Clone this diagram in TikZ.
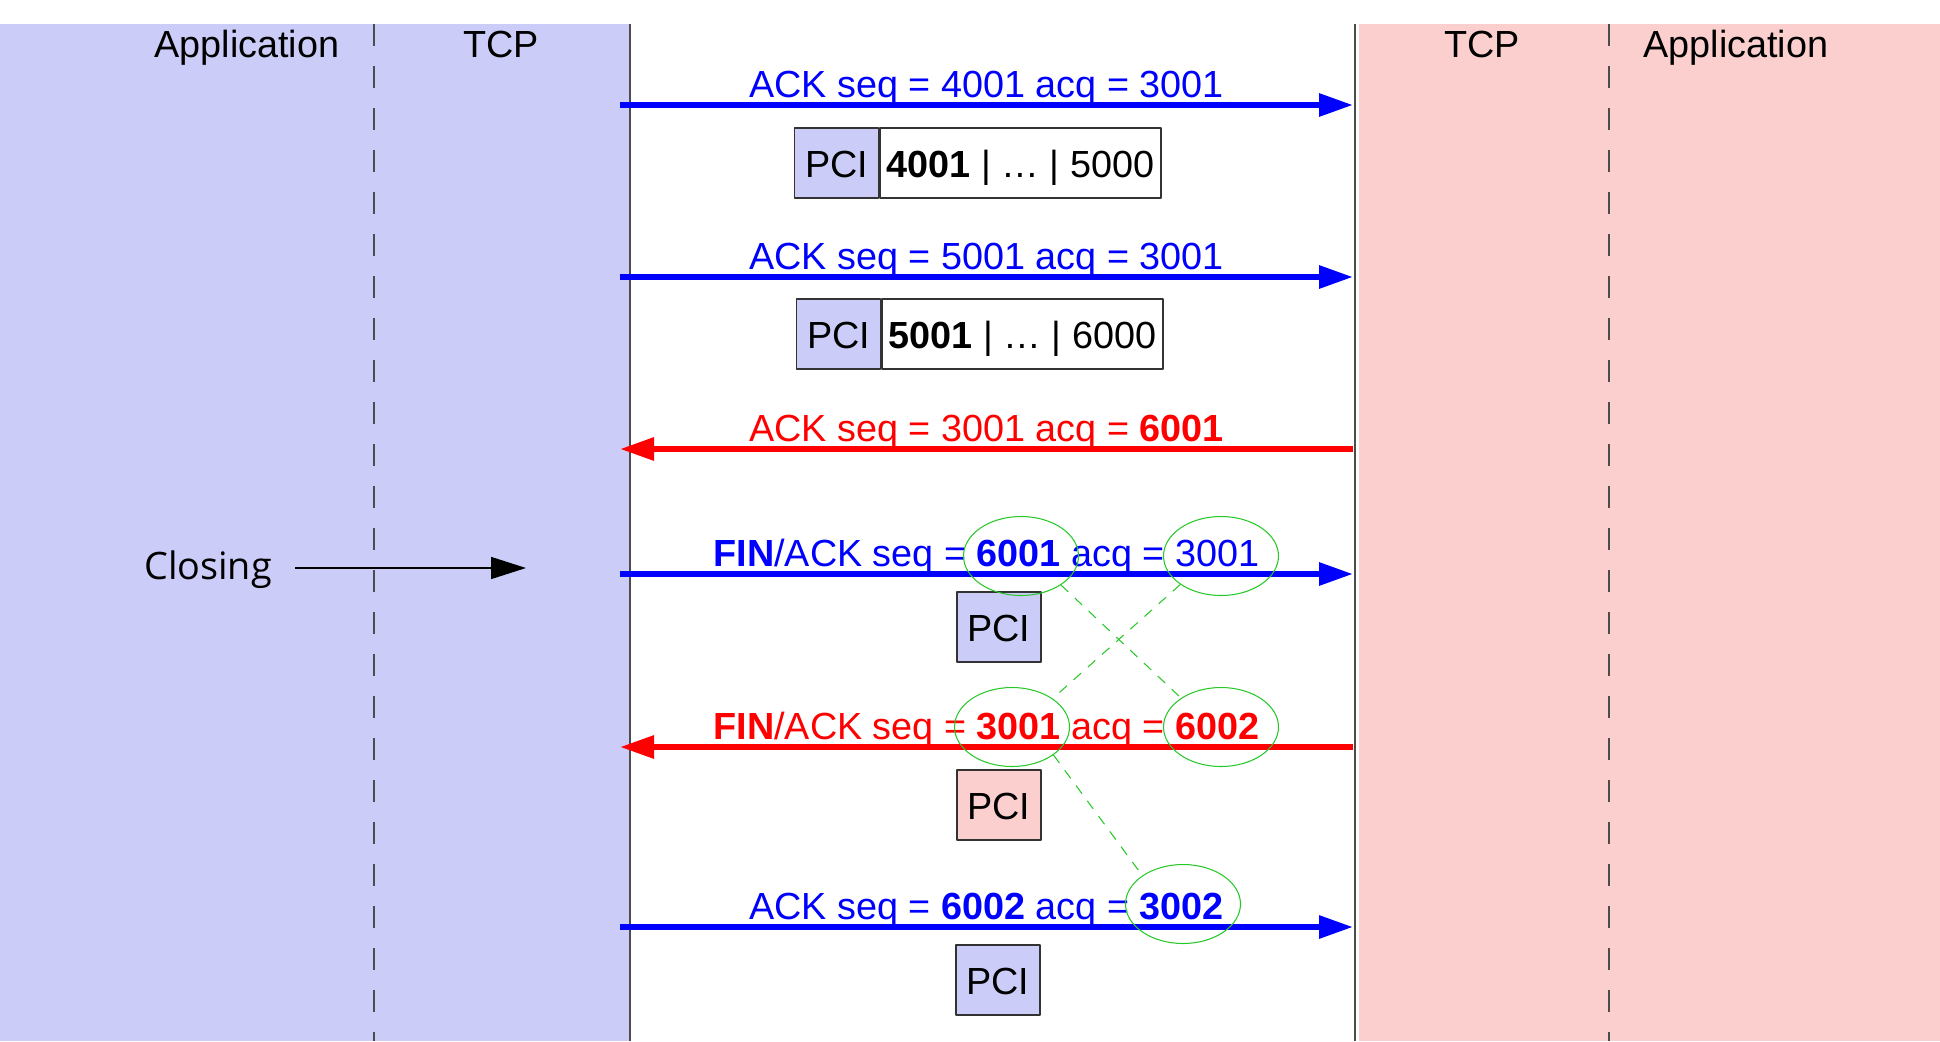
\documentclass[tikz,border=0pt]{standalone}
\usepackage{fontspec}
\setmainfont{Liberation Sans}
\newfontfamily\closefont{Open Sans}
\usetikzlibrary{arrows.meta,positioning,shapes.geometric}
\definecolor{hostA}{RGB}{204,204,248}
\definecolor{hostB}{RGB}{252,207,207}
\definecolor{ovalgreen}{RGB}{40,200,40}
\begin{document}
\begin{tikzpicture}[x=0.02cm,y=-0.02cm,font=\fontsize{21.5}{25}\selectfont, line join=round,
	msg/.style={line width=3.4pt,-{Triangle[length=0.68cm,width=0.44cm]}},
	lbl/.style={midway,anchor=base,yshift=0.16cm,inner sep=0pt},
	pcibox/.style={draw=black!80,line width=0.8pt,minimum height=1.4cm,minimum width=1.68cm,inner sep=0pt,text height=16pt,text depth=0pt},
	databox/.style={draw=black!80,line width=0.8pt,fill=white,minimum height=1.4cm,minimum width=5.62cm,inner sep=0pt,text height=16pt,text depth=0pt},
	oval/.style={draw=ovalgreen,ellipse,line width=0.6pt,minimum width=2.3cm,minimum height=1.58cm,inner sep=0pt},
	seqline/.style={draw=ovalgreen,line width=0.6pt,dash pattern=on 0.2cm off 0.18cm},
	layer/.style={draw=black!70,line width=0.8pt,dash pattern=on 0.44cm off 0.4cm}]
	\useasboundingbox (0,0) rectangle (1940,1041);
	% Hai máy: trái (xanh) và phải (hồng)
	\fill[hostA] (0,24) rectangle (630,1041);
	\fill[hostB] (1359,24) rectangle (1940,1041);
	\draw[black!70,line width=0.8pt] (630,24) -- (630,1041) (1355,24) -- (1355,1041);
	\draw[layer] (374,24) -- (374,1041);
	\draw[layer] (1609,24) -- (1609,1041);
	\node[anchor=base] (appA) at (247,57) {Application};
	\node[anchor=base] (tcpA) at (501,57) {TCP};
	\node[anchor=base] (tcpB) at (1482,57) {TCP};
	\node[anchor=base] (appB) at (1736,57) {Application};
	% Điểm đầu/cuối các mũi tên
	\foreach \n/\y in {1/105,2/277,3/449,4/574,5/747,6/927} {
		\coordinate (a\n) at (620,\y);
		\coordinate (b\n) at (1353,\y);
	}
	\draw[msg,blue] (a1) -- node[lbl] (m1) {ACK seq = 4001 acq = 3001} (b1);
	\draw[msg,blue] (a2) -- node[lbl] (m2) {ACK seq = 5001 acq = 3001} (b2);
	\draw[msg,red] (b3) -- node[lbl] (m3) {ACK seq = 3001 acq = \textbf{6001}} (a3);
	\draw[msg,blue] (a4) -- node[lbl] (m4) {\textbf{FIN}/ACK seq = \textbf{6001} acq = 3001} (b4);
	\draw[msg,red] (b5) -- node[lbl] (m5) {\textbf{FIN}/ACK seq = \textbf{3001} acq = \textbf{6002}} (a5);
	\draw[msg,blue] (a6) -- node[lbl] (m6) {ACK seq = \textbf{6002} acq = \textbf{3002}} (b6);
	% Các gói tin
	\node[pcibox,fill=hostA,anchor=west] (pci1) at (794,163) {PCI};
	\node[databox,right=0pt of pci1] (data1) {\textbf{4001} | … | 5000};
	\node[pcibox,fill=hostA,anchor=west] (pci2) at (796,334) {PCI};
	\node[databox,right=0pt of pci2] (data2) {\textbf{5001} | … | 6000};
	\node[pcibox,fill=hostA] (pci4) at (999,627) {PCI};
	\node[pcibox,fill=hostB] (pci5) at (999,805) {PCI};
	\node[pcibox,fill=hostA] (pci6) at (998,980) {PCI};
	% Closing
	\node[font=\closefont\fontsize{21.5}{25}\selectfont,anchor=base] (closing) at (208,579) {Closing};
	\coordinate (cl0) at (295,568);
	\coordinate (cl1) at (526,568);
	\draw[line width=0.85pt,-{Triangle[length=0.7cm,width=0.44cm]}] (cl0) -- (cl1);
	% Khoanh số thứ tự
	\node[oval] (o1) at (1021,556) {};
	\node[oval] (o2) at (1221,556) {};
	\node[oval] (o3) at (1012,727) {};
	\node[oval] (o4) at (1221,727) {};
	\node[oval] (o5) at (1183,904) {};
	\draw[seqline] (o1.-36) -- (o4.144);
	\draw[seqline] (o2.215) -- (o3.35);
	\draw[seqline] (o3.-34) -- (o5.145);
\end{tikzpicture}
\end{document}
